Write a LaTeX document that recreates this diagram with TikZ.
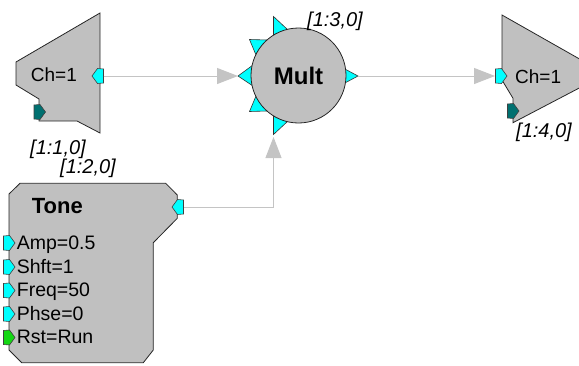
\documentclass[tikz,border=0pt]{standalone}
\usepackage{fontspec}
\setmainfont{Liberation Sans}
\usetikzlibrary{arrows.meta}
\definecolor{blk}{RGB}{192,192,192}
\definecolor{wirec}{RGB}{196,196,196}
\definecolor{portc}{RGB}{0,255,255}
\definecolor{portt}{RGB}{0,112,112}
\definecolor{portg}{RGB}{20,215,20}
\begin{document}
\begin{tikzpicture}[x=1pt,y=-1pt,
  block/.style={fill=blk,draw=black!85,line width=0.8pt},
  wire/.style={draw=wirec,line width=1pt,-{Triangle[length=21pt,width=16pt]}},
  plain/.style={draw=wirec,line width=1pt},
  mport/.style={fill=portc,draw=black!80,line width=0.6pt},
  pent/.pic={\path[draw=black!75,line width=0.6pt,pic actions] (-5.5,-7) -- (0.5,-7.5) -- (6,0) -- (0.5,7.5) -- (-5.5,7) -- cycle;},
  txt/.style={inner sep=0pt,anchor=base west,font=\fontsize{19.5}{22}\selectfont},
  lbl/.style={inner sep=0pt,anchor=base,font=\fontsize{20}{22}\selectfont\itshape},
  ttl/.style={inner sep=0pt,font=\fontsize{22}{24}\selectfont\bfseries}]
\useasboundingbox (0,0) rectangle (579,365);

% ---------- left block (Ch=1 source) ----------
\path[block] (100,13) -- (100,133) -- (77,121) -- (39,121) -- (39,99) -- (16,85) -- (16,62) -- cycle;
\node[txt,font=\fontsize{19}{22}\selectfont] (chA) at (30.7,81.5) {Ch=1};
\pic[fill=portc,xscale=-1] at (98,76) {pent};
\pic[fill=portt] at (39.5,112) {pent};
\coordinate (aout) at (103.5,76);
\node[lbl] (labA) at (58,154) {[1:1,0]};

% ---------- right block (Ch=1 sink) ----------
\path[block] (502,15) -- (606,74) -- (513,122.7) -- (513,98.3) -- (502,80) -- cycle;
\node[txt,font=\fontsize{19}{22}\selectfont] (chB) at (515,83) {Ch=1};
\pic[fill=portc] at (501,76) {pent};
\pic[fill=portt] at (513,111) {pent};
\coordinate (bin) at (495,76);
\node[lbl] (labB) at (544,137.5) {[1:4,0]};

% ---------- Mult ----------
\path[mport] (273.5,16.5) -- (273.5,38) -- (288,30) -- cycle;
\path[mport] (249.5,39.5) -- (267,40) -- (256,55) -- cycle;
\path[mport] (238,76) -- (253,65) -- (253,86) -- cycle;
\path[mport] (249.5,111.5) -- (267,111) -- (256,96) -- cycle;
\path[mport] (273.5,134.5) -- (273.5,113) -- (288,121) -- cycle;
\path[mport] (358,76) -- (343,68) -- (343,84) -- cycle;
\path[block] (298.5,75.5) circle[radius=47.5];
\node[ttl,font=\fontsize{24}{26}\selectfont\bfseries,anchor=base] (mult) at (298.5,84.3) {Mult};
\coordinate (min) at (238,76);
\coordinate (mbot) at (273.5,137);
\coordinate (mout) at (358,76);
\node[lbl] (labM) at (335,26) {[1:3,0]};

% ---------- Tone ----------
\path[block] (20,183.3) -- (165.7,183.3) -- (177.3,195) -- (177.3,218.3) -- (153.3,242.7) -- (153.3,350) -- (143.3,362.7) -- (21.7,362.7) -- (9,350) -- (9,194) -- cycle;
\node[ttl,anchor=base west] (tone) at (31.7,213) {Tone};
\node[txt] (amp) at (16.7,249) {Amp=0.5};
\node[txt] (shft) at (16.7,273) {Shft=1};
\node[txt] (freq) at (16.7,296.5) {Freq=50};
\node[txt] (phse) at (16.7,320) {Phse=0};
\node[txt] (rst) at (16.7,343.5) {Rst=Run};
\pic[fill=portc] at (9,243) {pent};
\pic[fill=portc] at (9,267) {pent};
\pic[fill=portc] at (9,290.5) {pent};
\pic[fill=portc] at (9,314) {pent};
\pic[fill=portg] at (9,337.5) {pent};
\pic[fill=portc,xscale=-1] at (178,207) {pent};
\coordinate (tout) at (184,207);
\node[lbl] (labT) at (88,173.5) {[1:2,0]};

% ---------- connectors ----------
\draw[wire] (aout) -- (min);
\draw[wire] (mout) -- (bin);
\draw[wire] (tout) -| (mbot);
\end{tikzpicture}
\end{document}
